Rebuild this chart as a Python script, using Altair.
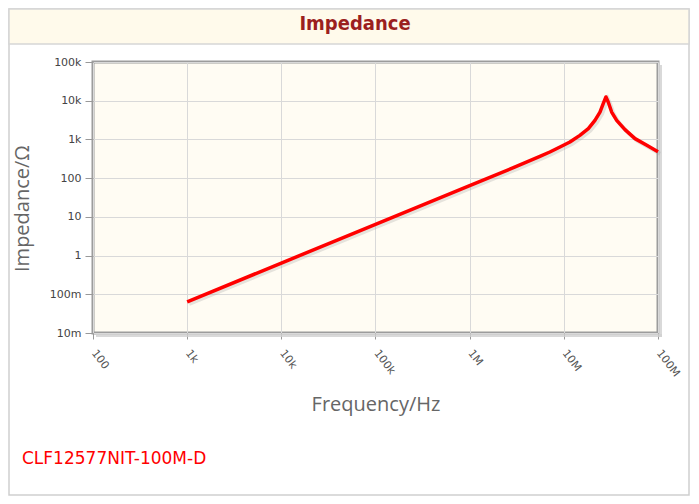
import altair as alt
import pandas as pd

# Data (frequency in Hz, impedance in ohm)
freq_hz = [1e3, 1e4, 1e5, 1e6, 3e6, 5.57e6, 7.1e6, 9.1e6, 1.16e7, 1.48e7, 1.82e7,
           2.14e7, 2.42e7, 2.62e7, 2.8e7, 2.96e7, 3.22e7, 3.64e7, 4.46e7, 5.7e7,
           7.6e7, 1e8]
impedance_ohm = [0.064, 0.64, 6.4, 64, 192, 365, 473, 637, 858, 1276, 1904,
                 3120, 5100, 8400, 12500, 9270, 5100, 3120, 1786, 1050,
                 705, 480]

x_ticks = [1e2, 1e3, 1e4, 1e5, 1e6, 1e7, 1e8]
y_ticks = [0.01, 0.1, 1, 10, 100, 1e3, 1e4, 1e5]

title_text = "Impedance"
part_text = "CLF12577NIT-100M-D"
x_title = "Frequency/Hz"
y_title = "Impedance/Ω"

df = pd.DataFrame({"f": freq_hz, "z": impedance_ohm})

W, H = 565, 271

label_expr = ("datum.value >= 1e6 ? format(datum.value/1e6,'d')+'M' : "
              "datum.value >= 1e3 ? format(datum.value/1e3,'d')+'k' : "
              "datum.value >= 1 ? format(datum.value,'d') : "
              "format(datum.value*1000,'d')+'m'")

x_enc = alt.X("f:Q", scale=alt.Scale(type="log", domain=[1e2, 1e8], nice=False),
              axis=alt.Axis(values=x_ticks, labelExpr=label_expr, title=x_title,
                            labelAngle=52, labelAlign="left", labelBaseline="middle",
                            labelPadding=12, labelFontSize=11, labelColor="#555",
                            labelFont="DejaVu Sans",
                            titleFont="Open Sans", titleFontSize=20, titleFontWeight="normal",
                            titleColor="#666", titlePadding=16,
                            tickSize=6, tickColor="#999", domain=False,
                            gridColor="#d9d9d9", labelOverlap=False, labelFlush=False))
y_enc = alt.Y("z:Q", scale=alt.Scale(type="log", domain=[0.01, 1e5], nice=False),
              axis=alt.Axis(values=y_ticks, labelExpr=label_expr, title=y_title,
                            labelFontSize=11, labelColor="#444", labelFont="DejaVu Sans",
                            labelPadding=4,
                            titleFont="Open Sans", titleFontSize=20, titleFontWeight="normal",
                            titleColor="#666", titlePadding=17, titleY=146,
                            tickSize=8, tickColor="#999", domain=False,
                            gridColor="#d9d9d9", labelOverlap=False, labelFlush=False))

one = alt.Data(values=[{"a": 1}])

outer = alt.Chart(one).mark_rect(fillOpacity=0, stroke="#cfcfcf", strokeWidth=1.5).encode(
    x=alt.value(-84), x2=alt.value(596), y=alt.value(-53), y2=alt.value(433))
band = alt.Chart(one).mark_rect(fill="#fffaeb", stroke="#d6d6d6", strokeWidth=1.5).encode(
    x=alt.value(-84), x2=alt.value(596), y=alt.value(-53), y2=alt.value(-18))
title = alt.Chart(one).mark_text(text=title_text, font="DejaVu Sans Condensed", fontSize=20,
                                 fontWeight="bold", color="#9b1f1f", align="center",
                                 baseline="middle").encode(x=alt.value(262), y=alt.value(-38))
footer = alt.Chart(one).mark_text(text=part_text, font="DejaVu Sans", fontSize=17,
                                  color="#ff0000", align="left",
                                  baseline="alphabetic").encode(x=alt.value(-71), y=alt.value(402))
shadow_r = alt.Chart(one).mark_rect(fill="#d0d0d0", opacity=0.8).encode(
    x=alt.value(W + 1), x2=alt.value(W + 4), y=alt.value(3), y2=alt.value(H + 4))
shadow_b = alt.Chart(one).mark_rect(fill="#d0d0d0", opacity=0.8).encode(
    x=alt.value(3), x2=alt.value(W + 4), y=alt.value(H + 1), y2=alt.value(H + 4))

base = alt.Chart(df)
line_shadow = base.mark_line(color="#999999", strokeWidth=4, opacity=0.25,
                             xOffset=2, yOffset=2).encode(x=x_enc, y=y_enc)
line = base.mark_line(color="#ff0000", strokeWidth=3.5, strokeJoin="round").encode(x=x_enc, y=y_enc)

chart = alt.layer(outer, band, title, footer, shadow_r, shadow_b, line_shadow, line).properties(
    width=W, height=H,
    autosize=alt.AutoSizeParams(type="none"),
    padding={"left": 85, "top": 54, "right": 33, "bottom": 163},
    background="white",
).configure_view(fill="#fffcf3", stroke="#9c9c9c", strokeWidth=3)

chart.save("out.html", embed_options={"renderer": "svg", "actions": False})
